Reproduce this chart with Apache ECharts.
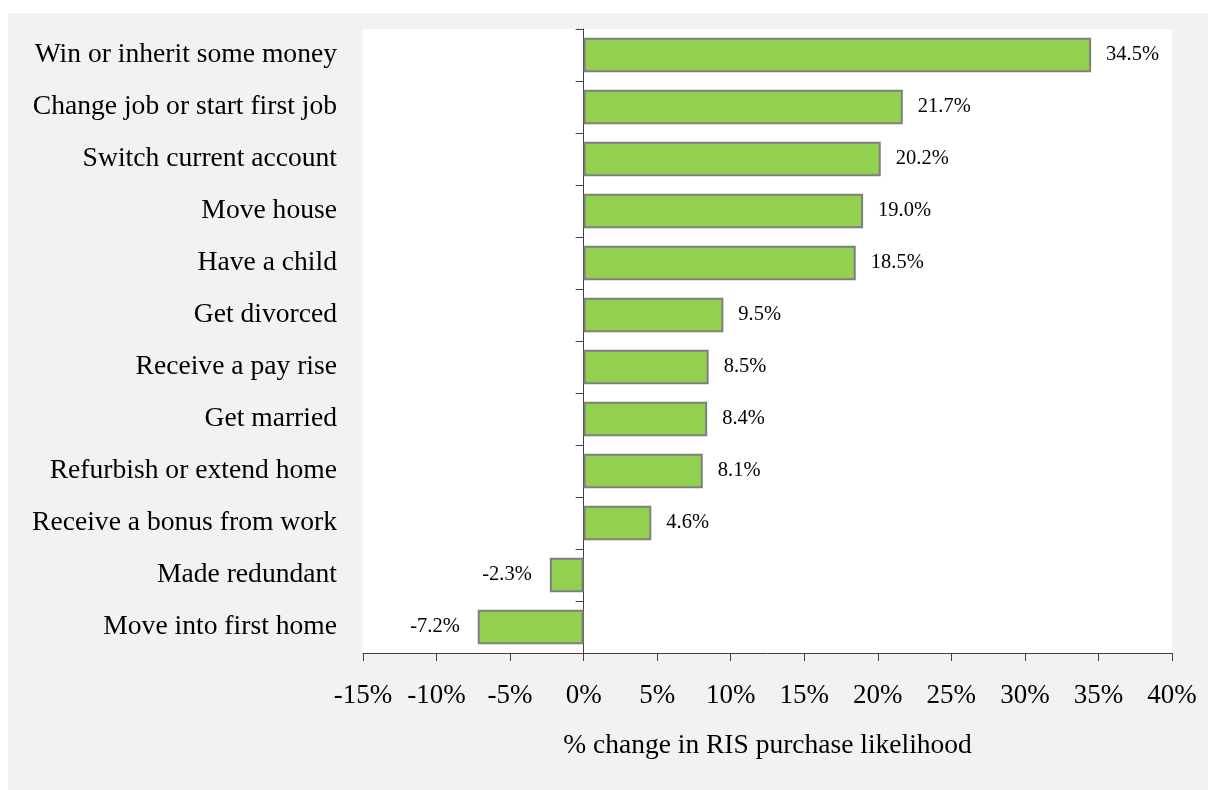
<!DOCTYPE html>
<html>
<head>
<meta charset="utf-8">
<script src="https://cdn.jsdelivr.net/npm/echarts@6/dist/echarts.min.js"></script>
<style>
  html, body { margin: 0; padding: 0; background: #ffffff; }
  #frame { position: absolute; left: 8px; top: 13px; width: 1200px; height: 777px; background: #f2f2f2; }
  #chart { position: absolute; left: 0; top: 0; width: 1208px; height: 790px; }
</style>
</head>
<body>
<div id="frame"></div>
<div id="chart"></div>
<script>
// Life events and the % change in RIS purchase likelihood
const categories = [
  'Win or inherit some money',
  'Change job or start first job',
  'Switch current account',
  'Move house',
  'Have a child',
  'Get divorced',
  'Receive a pay rise',
  'Get married',
  'Refurbish or extend home',
  'Receive a bonus from work',
  'Made redundant',
  'Move into first home'
];
const changeValues = [34.5, 21.7, 20.2, 19.0, 18.5, 9.5, 8.5, 8.4, 8.1, 4.6, -2.3, -7.2];
const axisMin = -15;
const axisMax = 40;
const axisStep = 5;

const serif = '"Liberation Serif", "Times New Roman", serif';
const chart = echarts.init(document.getElementById('chart'));

chart.setOption({
  animation: false,
  grid: {
    left: 363, right: 36, top: 29, bottom: 137,
    show: true, backgroundColor: '#ffffff', borderWidth: 0,
    containLabel: false
  },
  xAxis: {
    type: 'value',
    min: axisMin, max: axisMax, interval: axisStep,
    name: '% change in RIS purchase likelihood',
    nameLocation: 'middle',
    nameGap: 79,
    nameTextStyle: { fontFamily: serif, fontSize: 27.5, color: '#000' },
    axisLine: { show: true, onZero: false, lineStyle: { color: '#404040', width: 1 } },
    axisTick: { show: true, length: 8, lineStyle: { color: '#404040' } },
    axisLabel: {
      formatter: '{value}%', fontFamily: serif, fontSize: 27, color: '#000', margin: 29
    },
    splitLine: { show: false }
  },
  yAxis: [
    {
      type: 'category',
      data: categories,
      inverse: true,
      axisLine: { show: false, onZero: false },
      axisTick: { show: false },
      axisLabel: { fontFamily: serif, fontSize: 27.6, color: '#000', margin: 26 }
    },
    {
      // zero line with category boundary ticks
      type: 'category',
      data: categories,
      inverse: true,
      position: 'left',
      axisLine: { show: true, onZero: true, lineStyle: { color: '#404040', width: 1 } },
      axisTick: { show: true, length: 8, lineStyle: { color: '#404040' } },
      axisLabel: { show: false }
    }
  ],
  series: [{
    type: 'bar',
    yAxisIndex: 0,
    data: changeValues.map(v => ({
      value: v,
      label: v < 0 ? { position: 'left', distance: 18 } : { position: 'right', distance: 15 }
    })),
    barCategoryGap: '34%',
    itemStyle: { color: '#92d050', borderColor: '#7f7f7f', borderWidth: 2 },
    label: {
      show: true,
      fontFamily: serif,
      fontSize: 20.5,
      color: '#000',
      formatter: p => p.value.toFixed(1) + '%'
    }
  }]
});
</script>
</body>
</html>
